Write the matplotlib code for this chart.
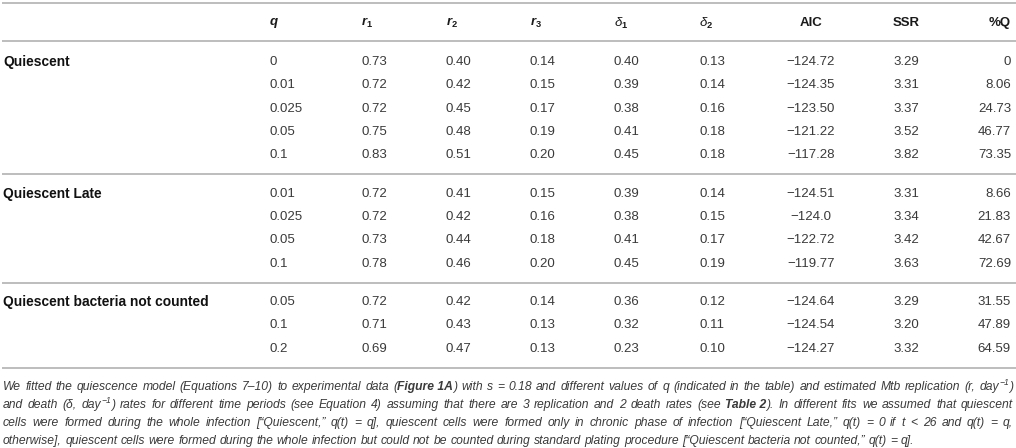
import matplotlib
matplotlib.use("Agg")
import matplotlib.pyplot as plt

plt.rcParams['font.family'] = ['Liberation Sans', 'DejaVu Sans']
plt.rcParams['mathtext.fontset'] = 'custom'
plt.rcParams['mathtext.rm'] = 'Liberation Sans'
plt.rcParams['mathtext.it'] = 'Liberation Sans:italic'
plt.rcParams['mathtext.bf'] = 'Liberation Sans:bold'
plt.rcParams['mathtext.bfit'] = 'Liberation Sans:bold:italic'

# ---------------- data ----------------
headers = [r"$\mathbfit{q}$", r"$\mathbfit{r}_{\mathbf{1}}$", r"$\mathbfit{r}_{\mathbf{2}}$",
           r"$\mathbfit{r}_{\mathbf{3}}$", r"$\mathit{\delta}_{\mathbf{1}}$", r"$\mathit{\delta}_{\mathbf{2}}$",
           "AIC", "SSR", "%Q"]
groups = ["Quiescent", "Quiescent Late", "Quiescent bacteria not counted"]
group_sizes = [5, 4, 3]
q_vals = ["0", "0.01", "0.025", "0.05", "0.1",
          "0.01", "0.025", "0.05", "0.1",
          "0.05", "0.1", "0.2"]
r1_vals = ["0.73", "0.72", "0.72", "0.75", "0.83", "0.72", "0.72", "0.73", "0.78", "0.72", "0.71", "0.69"]
r2_vals = ["0.40", "0.42", "0.45", "0.48", "0.51", "0.41", "0.42", "0.44", "0.46", "0.42", "0.43", "0.47"]
r3_vals = ["0.14", "0.15", "0.17", "0.19", "0.20", "0.15", "0.16", "0.18", "0.20", "0.14", "0.13", "0.13"]
d1_vals = ["0.40", "0.39", "0.38", "0.41", "0.45", "0.39", "0.38", "0.41", "0.45", "0.36", "0.32", "0.23"]
d2_vals = ["0.13", "0.14", "0.16", "0.18", "0.18", "0.14", "0.15", "0.17", "0.19", "0.12", "0.11", "0.10"]
aic_vals = ["124.72", "124.35", "123.50", "121.22", "117.28", "124.51", "124.0", "122.72", "119.77",
            "124.64", "124.54", "124.27"]
ssr_vals = ["3.29", "3.31", "3.37", "3.52", "3.82", "3.31", "3.34", "3.42", "3.63", "3.29", "3.20", "3.32"]
pq_vals = ["0", "8.06", "24.73", "46.77", "73.35", "8.66", "21.83", "42.67", "72.69", "31.55", "47.89", "64.59"]

# caption: lines of words; each word is list of (text, style)
I, B, S = "i", "b", "s"
caption_lines = [
    ([[("We", I)], [("fitted", I)], [("the", I)], [("quiescence", I)], [("model", I)], [("(Equations", I)],
      [("7–10)", I)], [("to", I)], [("experimental", I)], [("data", I)], [("(", I), ("Figure 1A", B), (")", I)],
      [("with", I)], [("s", I)], [("=", I)], [("0.18", I)], [("and", I)], [("different", I)], [("values", I)],
      [("of", I)], [("q", I)], [("(indicated", I)], [("in", I)], [("the", I)], [("table)", I)], [("and", I)],
      [("estimated", I)], [("Mtb", I)], [("replication", I)], [("(r,", I)], [("day", I), ("−1", S), (")", I)]], True),
    ([[("and", I)], [("death", I)], [("(δ,", I)], [("day", I), ("−1", S), (")", I)], [("rates", I)], [("for", I)],
      [("different", I)], [("time", I)], [("periods", I)], [("(see", I)], [("Equation", I)], [("4)", I)],
      [("assuming", I)], [("that", I)], [("there", I)], [("are", I)], [("3", I)], [("replication", I)], [("and", I)],
      [("2", I)], [("death", I)], [("rates", I)], [("(see", I)], [("Table 2", B), (").", I)], [("In", I)],
      [("different", I)], [("fits", I)], [("we", I)], [("assumed", I)], [("that", I)], [("quiescent", I)]], True),
    ([[(w, I)] for w in "cells were formed during the whole infection [“Quiescent,” q(t) = q], quiescent cells were formed only in chronic phase of infection [“Quiescent Late,” q(t) = 0 if t < 26 and q(t) = q,".split(" ")], True),
    ([[(w, I)] for w in "otherwise], quiescent cells were formed during the whole infection but could not be counted during standard plating procedure [“Quiescent bacteria not counted,” q(t) = q].".split(" ")], False),
]

# ---------------- layout ----------------
W, H = 1016, 448
fig = plt.figure(figsize=(W / 100, H / 100), dpi=100)
ax = fig.add_axes([0, 0, 1, 1])
ax.set_xlim(0, W)
ax.set_ylim(H, 0)
ax.axis('off')

line_col = "#b8b8b8"
txt_col = "#3a3a3a"
fs = 9.5
lab_fs = 9.9

col_x = [269, 361, 446, 530, 614, 699, 811, 906, 1011]
col_ha = ["left"] * 6 + ["center", "center", "right"]

header_y = 23
ax.hlines([3, 41], 2, W, color=line_col, lw=1.3)
for x, ha, h in zip(col_x, col_ha, headers):
    ax.text(x, header_y, h, ha=ha, va="center", fontsize=fs, fontweight="bold", color="#1a1a1a")

row_h = 23.3
y = 62
k = 0
for gi, (g, n) in enumerate(zip(groups, group_sizes)):
    ax.text(3, y, g, ha="left", va="center", fontsize=lab_fs, fontweight="bold", color="#111111")
    for j in range(n):
        cols = [q_vals[k], r1_vals[k], r2_vals[k], r3_vals[k], d1_vals[k], d2_vals[k],
                "\u2212" + aic_vals[k], ssr_vals[k], pq_vals[k]]
        for x, ha, c in zip(col_x, col_ha, cols):
            ax.text(x, y, c, ha=ha, va="center", fontsize=fs, color=txt_col)
        k += 1
        if j < n - 1:
            y += row_h
    line_y = y + 19
    ax.hlines(line_y, 2, W, color=line_col, lw=1.3)
    y = line_y + 19.5

# caption
renderer = fig.canvas.get_renderer()
cfs = 8.7
sup_fs = 6.2
cap_y0 = line_y + 19
cap_dy = 18
left, right = 3, 1013


def piece_width(text, style):
    t = ax.text(0, 0, text, fontsize=sup_fs if style == S else cfs, style="italic",
                fontweight="bold" if style == B else "normal")
    w = t.get_window_extent(renderer).width
    t.remove()
    return w


space_w = piece_width("a a", I) - piece_width("aa", I)
for li, (words, justify) in enumerate(caption_lines):
    yy = cap_y0 + li * cap_dy
    widths = [[piece_width(t, s) for t, s in wd] for wd in words]
    tot = sum(sum(ws) for ws in widths)
    if justify:
        gap = (right - left - tot) / (len(words) - 1)
    else:
        gap = space_w
    x = left
    for wd, ws in zip(words, widths):
        for (t, s), w in zip(wd, ws):
            if s == S:
                ax.text(x, yy - 4, t, fontsize=sup_fs, style="italic", color=txt_col, ha="left", va="center")
            else:
                ax.text(x, yy, t, fontsize=cfs, style="italic", color=txt_col, ha="left", va="center",
                        fontweight="bold" if s == B else "normal")
            x += w
        x += gap

fig.savefig("out.png", dpi=100)
